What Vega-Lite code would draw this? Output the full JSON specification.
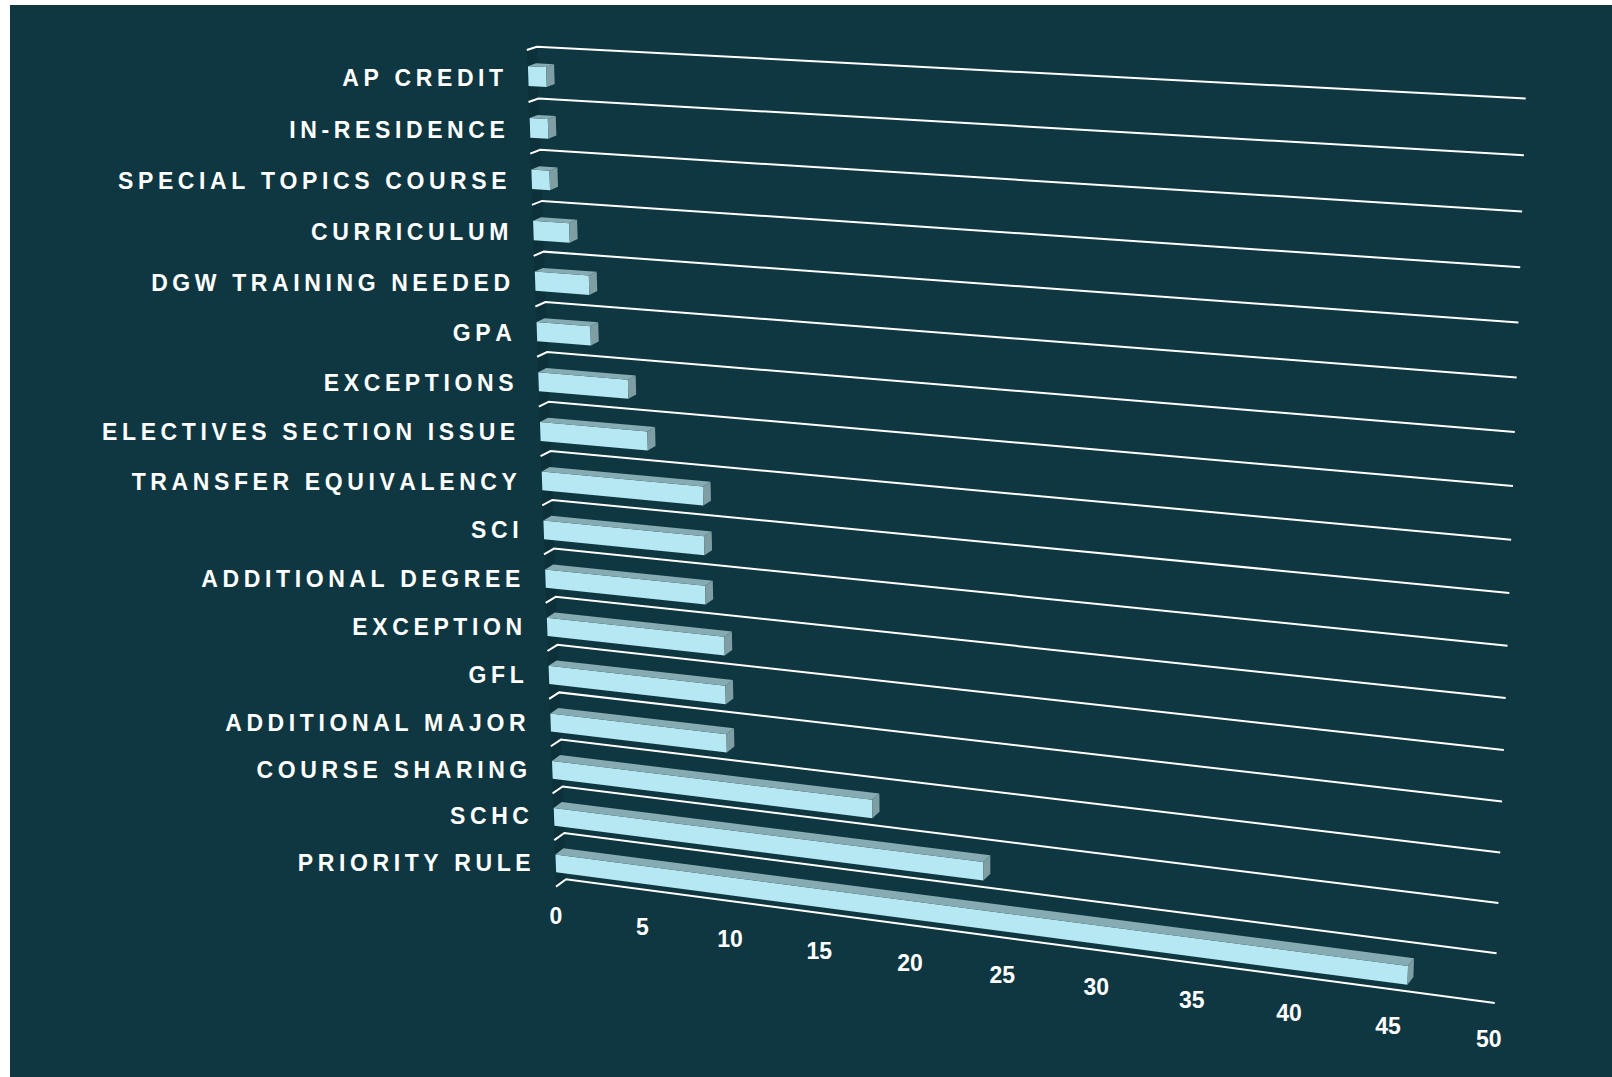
{"$schema":"https://vega.github.io/schema/vega-lite/v6.json","width":1602,"height":1072,"autosize":"none","padding":{"left":10,"top":5,"right":0,"bottom":0},"background":"#ffffff","config":{"view":{"stroke":null,"fill":"#0f3741"}},"datasets":{"bars":[{"row":0,"category":"AP CREDIT","value":1},{"row":1,"category":"IN-RESIDENCE","value":1},{"row":2,"category":"SPECIAL TOPICS COURSE","value":1},{"row":3,"category":"CURRICULUM","value":2},{"row":4,"category":"DGW TRAINING NEEDED","value":3},{"row":5,"category":"GPA","value":3},{"row":6,"category":"EXCEPTIONS","value":5},{"row":7,"category":"ELECTIVES SECTION ISSUE","value":6},{"row":8,"category":"TRANSFER EQUIVALENCY","value":9},{"row":9,"category":"SCI","value":9},{"row":10,"category":"ADDITIONAL DEGREE","value":9},{"row":11,"category":"EXCEPTION","value":10},{"row":12,"category":"GFL","value":10},{"row":13,"category":"ADDITIONAL MAJOR","value":10},{"row":14,"category":"COURSE SHARING","value":18},{"row":15,"category":"SCHC","value":24},{"row":16,"category":"PRIORITY RULE","value":46}],"grid":[{"line":0},{"line":1},{"line":2},{"line":3},{"line":4},{"line":5},{"line":6},{"line":7},{"line":8},{"line":9},{"line":10},{"line":11},{"line":12},{"line":13},{"line":14},{"line":15},{"line":16},{"line":17}],"ticks":[{"tick":0},{"tick":5},{"tick":10},{"tick":15},{"tick":20},{"tick":25},{"tick":30},{"tick":35},{"tick":40},{"tick":45},{"tick":50}]},"layer":[{"data":{"name":"grid"},"transform":[{"filter":"datum.line==0||datum.line==17"},{"calculate":"[0,1]","as":"pt"},{"flatten":["pt"]},{"calculate":"datum.line==0?datum.pt:3-datum.pt","as":"ord"},{"calculate":"datum.line","as":"r"},{"calculate":"536.8+1.72*datum.r-(datum.pt==0?10:0)","as":"X"},{"calculate":"46.7+51.93*datum.r-0.174*datum.r*datum.r+(datum.pt==0?3.3+0.24*datum.r:0)","as":"Y"}],"mark":{"type":"line","stroke":null,"fill":"#0c313b"},"encoding":{"x":{"field":"X","type":"quantitative","scale":{"domain":[10,1612],"nice":false,"zero":false},"axis":null},"y":{"field":"Y","type":"quantitative","scale":{"domain":[1077,5],"nice":false,"zero":false},"axis":null},"order":{"field":"ord","type":"quantitative"}}},{"data":{"name":"grid"},"transform":[{"calculate":"[0,1,2]","as":"pt"},{"flatten":["pt"]},{"calculate":"datum.line","as":"r"},{"calculate":"datum.pt==0?526.8+1.72*datum.r:datum.pt==1?536.8+1.72*datum.r:1525.7-1.82*datum.r","as":"X"},{"calculate":"datum.pt==2?98.5+56.88*datum.r-0.216*datum.r*datum.r:46.7+51.93*datum.r-0.174*datum.r*datum.r+(datum.pt==0?3.3+0.24*datum.r:0)","as":"Y"}],"mark":{"type":"line","stroke":"#ffffff","strokeWidth":2,"strokeCap":"butt"},"encoding":{"x":{"field":"X","type":"quantitative"},"y":{"field":"Y","type":"quantitative"},"detail":{"field":"line"},"order":{"field":"pt","type":"quantitative"}}},{"data":{"name":"bars"},"transform":[{"calculate":"[0,1,2]","as":"face"},{"flatten":["face"]},{"calculate":"[0,1,2,3]","as":"corner"},{"flatten":["corner"]},{"calculate":"[[0,1,1,0],[0,1,1,0],[1,1,1,1]][datum.face][datum.corner]*datum.value/50","as":"s"},{"calculate":"datum.row+0.31+0.38*[[0,0,1,1],[0,0,0,0],[0,1,1,0]][datum.face][datum.corner]","as":"r"},{"calculate":"0.8*[[0,0,0,0],[0,0,1,1],[0,0,1,1]][datum.face][datum.corner]","as":"d"},{"calculate":"datum.s/(1+0.09*(1-datum.s))","as":"t"},{"calculate":"536.8+1.72*datum.r+datum.t*(988.9-3.54*datum.r)-(10*(1-datum.s)+7.2*datum.s)*(1-datum.d)+0.6*(1-datum.s)","as":"X"},{"calculate":"46.7+51.93*datum.r-0.174*datum.r*datum.r+datum.t*(51.8+4.95*datum.r-0.042*datum.r*datum.r)+((3.3+0.24*datum.r)*(1-datum.s)+(1.5+0.38*datum.r)*datum.s)*(1-datum.d*(1.08+0.2*datum.s))","as":"Y"},{"calculate":"datum.category+' '+datum.face","as":"key"}],"mark":{"type":"line"},"encoding":{"x":{"field":"X","type":"quantitative"},"y":{"field":"Y","type":"quantitative"},"detail":{"field":"key"},"order":{"field":"corner","type":"quantitative"},"fill":{"field":"face","type":"nominal","legend":null,"scale":{"domain":[0,1,2],"range":["#b5e8f2","#87abb2","#7f9ea4"]}},"stroke":{"value":null}}},{"data":{"name":"bars"},"transform":[{"calculate":"datum.row+0.5","as":"r"},{"calculate":"502.3+1.72*datum.r","as":"X"},{"calculate":"46.7+51.93*datum.r-0.174*datum.r*datum.r+3.3+0.24*datum.r+3.1-0.16*datum.r","as":"Y"},{"calculate":"join(split(datum.category,''),'\u2009')","as":"label"}],"mark":{"type":"text","align":"right","baseline":"middle","font":"Liberation Sans","fontWeight":"bold","fontSize":23,"color":"#ffffff"},"encoding":{"x":{"field":"X","type":"quantitative"},"y":{"field":"Y","type":"quantitative"},"text":{"field":"label"}}},{"data":{"name":"ticks"},"transform":[{"calculate":"datum.tick/50","as":"s"},{"calculate":"datum.s/(1+0.09*(1-datum.s))","as":"t"},{"calculate":"566+928.7*datum.t-10+4*datum.s","as":"X"},{"calculate":"879.3+123.7*datum.t+37.3","as":"Y"}],"mark":{"type":"text","align":"center","baseline":"middle","font":"Liberation Sans","fontWeight":"bold","fontSize":23,"color":"#ffffff"},"encoding":{"x":{"field":"X","type":"quantitative"},"y":{"field":"Y","type":"quantitative"},"text":{"field":"tick","type":"quantitative"}}}]}
